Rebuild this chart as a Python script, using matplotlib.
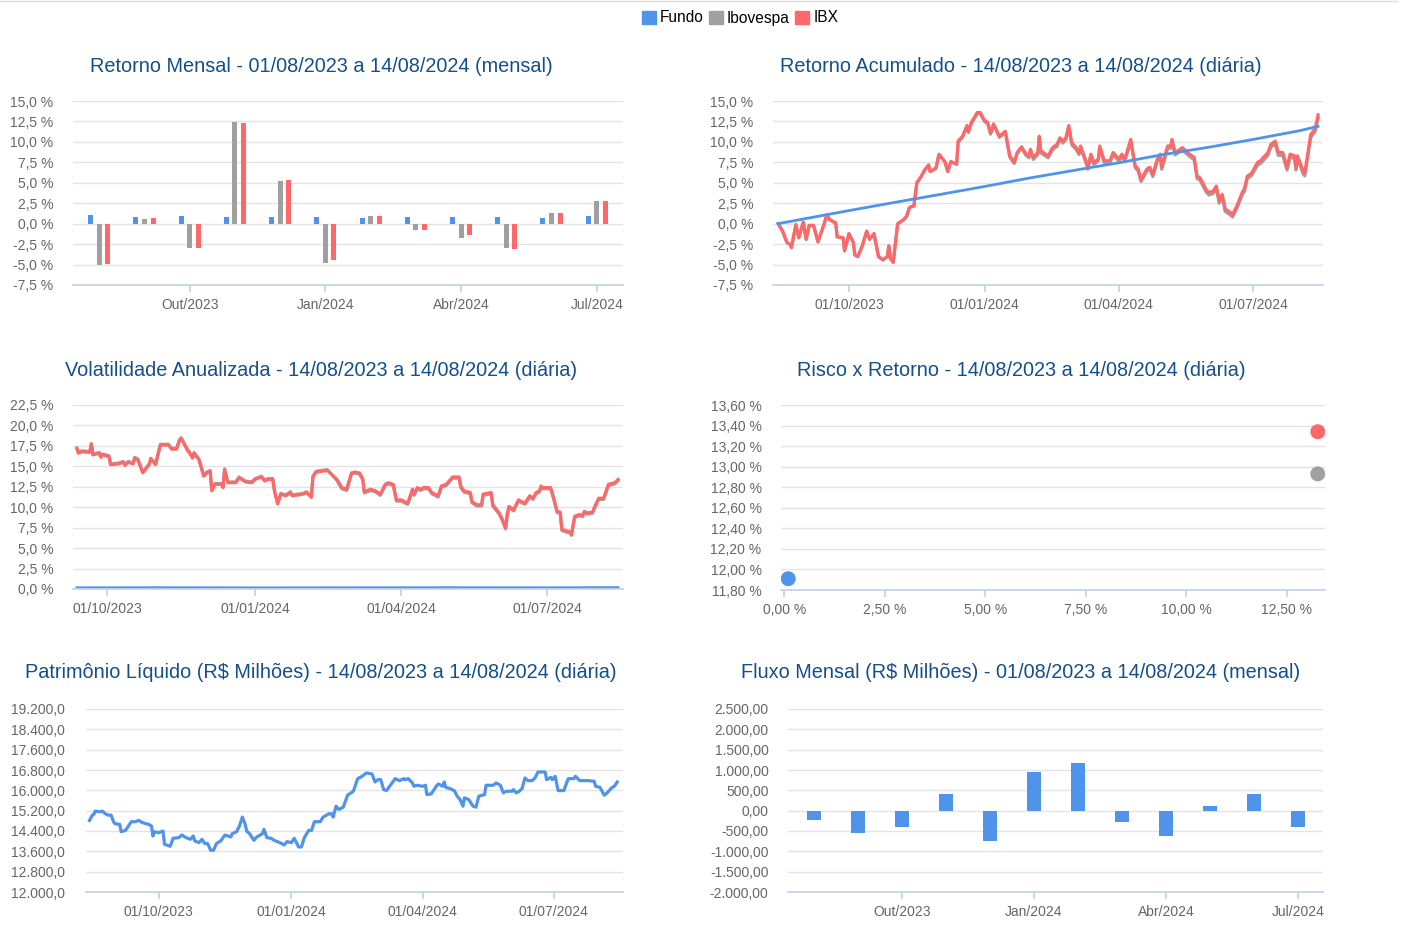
import numpy as np
import pandas as pd
import matplotlib
matplotlib.use('Agg')
import matplotlib.pyplot as plt
import matplotlib.dates as mdates
from matplotlib.patches import Patch
from matplotlib.ticker import FuncFormatter

plt.rcParams['font.family'] = ['Liberation Sans', 'DejaVu Sans']

BLUE = '#4f93ea'
GRAY = '#a0a0a0'
RED = '#ff6868'
TITLE_COLOR = '#134f8c'
LABEL_COLOR = '#666666'
GRID_COLOR = '#e4e4e4'
AXIS_COLOR = '#c6d4ea'

# ---- Retorno mensal (%) ----
months = ['Ago/2023', 'Set/2023', 'Out/2023', 'Nov/2023', 'Dez/2023', 'Jan/2024',
          'Fev/2024', 'Mar/2024', 'Abr/2024', 'Mai/2024', 'Jun/2024', 'Jul/2024']
ret_fundo = [1.07, 0.87, 0.88, 0.86, 0.76, 0.86, 0.75, 0.77, 0.78, 0.77, 0.74, 0.90]
ret_ibov = [-5.09, 0.61, -2.93, 12.43, 5.22, -4.77, 0.90, -0.73, -1.71, -2.94, 1.35, 2.82]
ret_ibx = [-4.99, 0.73, -2.93, 12.27, 5.34, -4.44, 0.90, -0.73, -1.39, -3.14, 1.35, 2.82]
month_ticks = ['Out/2023', 'Jan/2024', 'Abr/2024', 'Jul/2024']

# ---- Retorno acumulado (%) ----
acum_dates = [
    '2023-08-14', '2023-08-17', '2023-08-20', '2023-08-22', '2023-08-23', '2023-08-26',
    '2023-08-28', '2023-08-31', '2023-09-02', '2023-09-04', '2023-09-07', '2023-09-10',
    '2023-09-14', '2023-09-16', '2023-09-18', '2023-09-22', '2023-09-23', '2023-09-27',
    '2023-09-28', '2023-10-01', '2023-10-04', '2023-10-05', '2023-10-07', '2023-10-10',
    '2023-10-13', '2023-10-15', '2023-10-18', '2023-10-21', '2023-10-24', '2023-10-27',
    '2023-10-28', '2023-10-29', '2023-10-31', '2023-11-03', '2023-11-07', '2023-11-09',
    '2023-11-11', '2023-11-14', '2023-11-16', '2023-11-19', '2023-11-21', '2023-11-24',
    '2023-11-25', '2023-11-29', '2023-12-01', '2023-12-05', '2023-12-07', '2023-12-09',
    '2023-12-13', '2023-12-14', '2023-12-17', '2023-12-20', '2023-12-21', '2023-12-23',
    '2023-12-27', '2023-12-29', '2024-01-01', '2024-01-03', '2024-01-05', '2024-01-07',
    '2024-01-11', '2024-01-15', '2024-01-18', '2024-01-21', '2024-01-23', '2024-01-26',
    '2024-01-29', '2024-01-31', '2024-02-01', '2024-02-03', '2024-02-06', '2024-02-07',
    '2024-02-08', '2024-02-13', '2024-02-16', '2024-02-19', '2024-02-21', '2024-02-23',
    '2024-02-25', '2024-02-27', '2024-02-29', '2024-03-03', '2024-03-05', '2024-03-06',
    '2024-03-10', '2024-03-11', '2024-03-13', '2024-03-15', '2024-03-18', '2024-03-19',
    '2024-03-22', '2024-03-26', '2024-03-28', '2024-03-30', '2024-04-01', '2024-04-03',
    '2024-04-05', '2024-04-09', '2024-04-12', '2024-04-14', '2024-04-16', '2024-04-20',
    '2024-04-22', '2024-04-24', '2024-04-27', '2024-04-29', '2024-04-30', '2024-05-04',
    '2024-05-06', '2024-05-07', '2024-05-09', '2024-05-14', '2024-05-19', '2024-05-22',
    '2024-05-24', '2024-05-26', '2024-05-30', '2024-06-01', '2024-06-04', '2024-06-06',
    '2024-06-08', '2024-06-10', '2024-06-12', '2024-06-16', '2024-06-17', '2024-06-20',
    '2024-06-24', '2024-06-25', '2024-06-27', '2024-06-30', '2024-07-04', '2024-07-06',
    '2024-07-11', '2024-07-13', '2024-07-16', '2024-07-18', '2024-07-21', '2024-07-23',
    '2024-07-24', '2024-07-26', '2024-07-29', '2024-07-30', '2024-07-31', '2024-08-04',
    '2024-08-05', '2024-08-09', '2024-08-12', '2024-08-14']
acum_ibx = [
    0.0, -0.9, -2.3, -2.5, -2.9, -0.1, -1.7, 0.2, -1.9, -0.2, -0.2, -2.2,
    -0.1, 1.1, 0.5, 0.1, -1.6, -1.7, -3.3, -1.2, -2.3, -3.8, -4.0, -2.7,
    -0.9, -1.9, -1.2, -4.0, -4.4, -4.0, -2.7, -4.2, -4.7, 0.0, 0.5, 0.9,
    2.0, 2.2, 5.0, 5.8, 6.5, 7.2, 6.4, 6.8, 8.5, 7.6, 6.4, 7.6,
    7.3, 10.1, 10.7, 12.0, 11.3, 12.4, 13.6, 13.6, 12.6, 12.4, 11.1, 12.2,
    10.7, 11.3, 8.3, 7.5, 8.7, 9.4, 8.5, 8.3, 9.1, 8.1, 8.7, 10.7,
    8.9, 8.3, 9.3, 9.7, 10.5, 10.1, 10.5, 12.0, 9.9, 9.3, 8.7, 9.5,
    7.5, 6.9, 8.5, 7.5, 7.9, 9.5, 7.7, 7.7, 8.7, 8.3, 7.9, 8.5,
    7.9, 10.3, 7.1, 6.7, 5.4, 6.7, 6.9, 6.0, 7.9, 8.5, 6.9, 9.5,
    9.5, 10.3, 8.7, 9.3, 8.5, 8.1, 5.8, 5.6, 4.2, 3.8, 4.0, 4.6,
    2.8, 3.6, 1.8, 1.3, 1.1, 2.2, 4.0, 4.2, 5.8, 6.2, 7.5, 7.7,
    8.7, 9.7, 10.1, 8.7, 8.7, 7.5, 6.9, 8.5, 8.3, 6.9, 8.3, 6.4,
    6.2, 10.9, 11.6, 13.3]
acum_ibov = [
    0.0, -0.95, -2.35, -2.55, -2.95, -0.15, -1.75, 0.15, -1.95, -0.25, -0.25, -2.25,
    -0.15, 1.05, 0.45, 0.05, -1.65, -1.75, -3.35, -1.25, -2.35, -3.85, -4.05, -2.75,
    -0.95, -1.95, -1.25, -4.05, -4.45, -4.05, -2.75, -4.25, -4.75, -0.05, 0.45, 0.85,
    1.95, 2.15, 4.95, 5.75, 6.45, 7.15, 6.35, 6.75, 8.45, 7.55, 6.35, 7.55,
    7.25, 9.95, 10.55, 11.85, 11.15, 12.25, 13.45, 13.45, 12.45, 12.25, 10.95, 12.05,
    10.55, 11.15, 8.15, 7.35, 8.55, 9.25, 8.35, 8.05, 8.85, 7.85, 8.45, 10.45,
    8.65, 8.05, 9.05, 9.45, 10.25, 9.85, 10.25, 11.75, 9.65, 9.05, 8.45, 9.25,
    7.25, 6.65, 8.25, 7.25, 7.65, 9.25, 7.45, 7.45, 8.45, 8.05, 7.65, 8.25,
    7.65, 10.05, 6.85, 6.45, 5.15, 6.45, 6.65, 5.75, 7.65, 8.25, 6.65, 9.2,
    9.2, 10.0, 8.4, 9.0, 8.2, 7.8, 5.5, 5.3, 3.9, 3.5, 3.7, 4.3,
    2.5, 3.3, 1.5, 1.0, 0.8, 1.9, 3.7, 3.9, 5.5, 5.9, 7.15, 7.35,
    8.35, 9.35, 9.75, 8.35, 8.35, 7.15, 6.55, 8.15, 7.95, 6.55, 7.95, 6.05,
    5.85, 10.55, 11.25, 12.9]
acum_fundo_dates = ['2023-08-14', '2023-09-01', '2023-10-01', '2023-11-01', '2023-12-01',
                    '2024-01-01', '2024-02-01', '2024-03-01', '2024-04-01', '2024-05-01',
                    '2024-06-01', '2024-07-01', '2024-08-01', '2024-08-14']
acum_fundo = [0.0, 0.6, 1.6, 2.6, 3.55, 4.55, 5.6, 6.5, 7.45, 8.45, 9.35, 10.3, 11.35, 11.9]

# ---- Volatilidade anualizada (%) ----
vol_dates = [
    '2023-09-12', '2023-09-13', '2023-09-15', '2023-09-20', '2023-09-21', '2023-09-22',
    '2023-09-26', '2023-09-27', '2023-09-28', '2023-10-02', '2023-10-03', '2023-10-08',
    '2023-10-11', '2023-10-12', '2023-10-14', '2023-10-17', '2023-10-18', '2023-10-20',
    '2023-10-23', '2023-10-27', '2023-10-28', '2023-10-31', '2023-11-03', '2023-11-08',
    '2023-11-10', '2023-11-13', '2023-11-15', '2023-11-16', '2023-11-20', '2023-11-21',
    '2023-11-23', '2023-11-24', '2023-11-27', '2023-11-30', '2023-12-02', '2023-12-04',
    '2023-12-05', '2023-12-07', '2023-12-11', '2023-12-12', '2023-12-13', '2023-12-15',
    '2023-12-20', '2023-12-22', '2023-12-26', '2023-12-30', '2024-01-01', '2024-01-05',
    '2024-01-07', '2024-01-09', '2024-01-12', '2024-01-13', '2024-01-15', '2024-01-17',
    '2024-01-20', '2024-01-23', '2024-01-24', '2024-01-31', '2024-02-02', '2024-02-05',
    '2024-02-06', '2024-02-08', '2024-02-15', '2024-02-21', '2024-02-24', '2024-02-27',
    '2024-03-01', '2024-03-03', '2024-03-06', '2024-03-08', '2024-03-09', '2024-03-13',
    '2024-03-16', '2024-03-19', '2024-03-22', '2024-03-24', '2024-03-27', '2024-03-29',
    '2024-04-01', '2024-04-05', '2024-04-08', '2024-04-09', '2024-04-11', '2024-04-13',
    '2024-04-15', '2024-04-18', '2024-04-20', '2024-04-24', '2024-04-26', '2024-04-29',
    '2024-05-03', '2024-05-07', '2024-05-08', '2024-05-10', '2024-05-14', '2024-05-15',
    '2024-05-18', '2024-05-21', '2024-05-22', '2024-05-27', '2024-05-28', '2024-06-01',
    '2024-06-03', '2024-06-05', '2024-06-06', '2024-06-07', '2024-06-10', '2024-06-13',
    '2024-06-17', '2024-06-20', '2024-06-22', '2024-06-24', '2024-06-26', '2024-06-27',
    '2024-06-28', '2024-07-03', '2024-07-05', '2024-07-07', '2024-07-09', '2024-07-10',
    '2024-07-13', '2024-07-15', '2024-07-16', '2024-07-18', '2024-07-21', '2024-07-23',
    '2024-07-24', '2024-07-26', '2024-07-29', '2024-07-31', '2024-08-02', '2024-08-05',
    '2024-08-08', '2024-08-12', '2024-08-14']
vol_ibx = [
    17.15, 16.6, 16.8, 16.7, 17.7, 16.4, 16.6, 16.1, 16.4, 16.2, 15.2, 15.3,
    15.5, 15.1, 15.5, 15.3, 16.0, 15.8, 14.2, 15.2, 15.9, 15.2, 17.6, 17.6,
    17.1, 17.1, 18.2, 18.4, 16.9, 16.7, 16.0, 16.6, 15.8, 13.8, 14.2, 14.4,
    12.0, 12.8, 12.8, 12.4, 14.6, 13.0, 13.0, 13.6, 13.1, 13.0, 13.4, 13.7,
    13.2, 13.4, 13.4, 12.0, 10.4, 11.6, 11.4, 11.8, 11.4, 11.6, 11.8, 11.2,
    13.7, 14.3, 14.5, 13.4, 12.4, 12.2, 14.2, 14.3, 14.2, 13.5, 11.9, 12.2,
    12.0, 11.6, 12.8, 13.0, 12.8, 10.9, 10.9, 10.5, 12.2, 11.6, 12.4, 12.2,
    12.4, 12.4, 11.8, 11.4, 12.6, 12.8, 13.7, 13.7, 12.6, 12.0, 11.8, 10.7,
    10.3, 10.3, 11.6, 11.8, 10.3, 9.3, 8.5, 7.5, 9.1, 10.1, 9.7, 10.9,
    10.5, 11.4, 11.1, 11.8, 12.0, 12.6, 12.4, 12.4, 11.1, 9.5, 9.4, 7.3,
    7.1, 7.0, 6.7, 8.9, 9.1, 9.0, 9.5, 9.3, 9.4, 10.3, 11.1, 11.1,
    12.8, 13.0, 13.4]
vol_ibov = [
    17.25, 16.7, 16.9, 16.8, 17.8, 16.5, 16.7, 16.2, 16.5, 16.3, 15.3, 15.4,
    15.6, 15.2, 15.6, 15.4, 16.1, 15.9, 14.3, 15.3, 16.0, 15.3, 17.7, 17.7,
    17.2, 17.2, 18.3, 18.5, 17.0, 16.8, 16.1, 16.7, 15.9, 13.9, 14.3, 14.5,
    12.1, 12.9, 12.9, 12.5, 14.7, 13.1, 13.1, 13.7, 13.2, 13.1, 13.5, 13.8,
    13.3, 13.5, 13.5, 12.1, 10.5, 11.7, 11.5, 11.9, 11.5, 11.7, 11.9, 11.3,
    13.8, 14.4, 14.6, 13.25, 12.25, 12.05, 14.05, 14.15, 14.05, 13.35, 11.75, 12.05,
    11.85, 11.45, 12.65, 12.85, 12.65, 10.75, 10.75, 10.35, 12.05, 11.45, 12.25, 12.05,
    12.25, 12.25, 11.65, 11.25, 12.45, 12.65, 13.55, 13.55, 12.45, 11.85, 11.65, 10.55,
    10.15, 10.15, 11.45, 11.65, 10.15, 9.15, 8.35, 7.35, 8.95, 9.95, 9.55, 10.75,
    10.35, 11.25, 10.95, 11.65, 11.85, 12.45, 12.25, 12.25, 10.95, 9.35, 9.25, 7.15,
    6.95, 6.85, 6.55, 8.75, 8.95, 8.85, 9.35, 9.15, 9.25, 10.15, 10.95, 10.95,
    12.65, 12.85, 13.25]
vol_fundo_dates = ['2023-09-12', '2023-11-01', '2024-01-01', '2024-03-01', '2024-05-01',
                   '2024-07-01', '2024-08-14']
vol_fundo = [0.15, 0.16, 0.14, 0.15, 0.16, 0.15, 0.17]

# ---- Risco x Retorno (%) ----
risco = [0.10, 13.27, 13.27]      # Fundo, Ibovespa, IBX
retorno = [11.91, 12.93, 13.34]

# ---- Patrimonio liquido (R$ milhoes) ----
pl_dates = [
    '2023-08-14', '2023-08-16', '2023-08-17', '2023-08-18', '2023-08-21', '2023-08-23',
    '2023-08-25', '2023-08-27', '2023-08-29', '2023-08-31', '2023-09-01', '2023-09-04',
    '2023-09-05', '2023-09-08', '2023-09-12', '2023-09-15', '2023-09-17', '2023-09-20',
    '2023-09-24', '2023-09-26', '2023-09-27', '2023-09-28', '2023-10-01', '2023-10-04',
    '2023-10-05', '2023-10-09', '2023-10-11', '2023-10-15', '2023-10-17', '2023-10-20',
    '2023-10-23', '2023-10-25', '2023-10-26', '2023-10-29', '2023-10-31', '2023-11-02',
    '2023-11-04', '2023-11-06', '2023-11-08', '2023-11-10', '2023-11-13', '2023-11-16',
    '2023-11-20', '2023-11-21', '2023-11-24', '2023-11-26', '2023-11-28', '2023-11-30',
    '2023-12-01', '2023-12-03', '2023-12-06', '2023-12-08', '2023-12-12', '2023-12-13',
    '2023-12-15', '2023-12-18', '2023-12-20', '2023-12-24', '2023-12-27', '2023-12-29',
    '2024-01-01', '2024-01-03', '2024-01-06', '2024-01-08', '2024-01-10', '2024-01-13',
    '2024-01-15', '2024-01-17', '2024-01-21', '2024-01-23', '2024-01-27', '2024-01-29',
    '2024-01-30', '2024-02-01', '2024-02-03', '2024-02-06', '2024-02-09', '2024-02-13',
    '2024-02-16', '2024-02-19', '2024-02-22', '2024-02-26', '2024-02-28', '2024-03-01',
    '2024-03-03', '2024-03-05', '2024-03-07', '2024-03-10', '2024-03-13', '2024-03-16',
    '2024-03-19', '2024-03-20', '2024-03-22', '2024-03-25', '2024-03-26', '2024-03-28',
    '2024-04-01', '2024-04-03', '2024-04-04', '2024-04-07', '2024-04-11', '2024-04-12',
    '2024-04-15', '2024-04-16', '2024-04-17', '2024-04-20', '2024-04-23', '2024-04-25',
    '2024-04-27', '2024-04-29', '2024-04-30', '2024-05-03', '2024-05-06', '2024-05-08',
    '2024-05-10', '2024-05-14', '2024-05-15', '2024-05-20', '2024-05-22', '2024-05-25',
    '2024-05-27', '2024-05-29', '2024-06-02', '2024-06-03', '2024-06-05', '2024-06-07',
    '2024-06-09', '2024-06-11', '2024-06-13', '2024-06-16', '2024-06-18', '2024-06-20',
    '2024-06-25', '2024-06-26', '2024-06-29', '2024-06-30', '2024-07-02', '2024-07-04',
    '2024-07-08', '2024-07-11', '2024-07-15', '2024-07-16', '2024-07-19', '2024-07-22',
    '2024-07-25', '2024-07-29', '2024-07-30', '2024-08-02', '2024-08-05', '2024-08-07',
    '2024-08-10', '2024-08-12', '2024-08-14']
pl_values = [
    14817, 15025, 15051, 15182, 15156, 15182, 15077, 15025, 15025, 14725, 14686, 14660,
    14373, 14425, 14765, 14765, 14817, 14725, 14660, 14595, 14204, 14373, 14334, 14399,
    13878, 13800, 14113, 14139, 14243, 14139, 14073, 14204, 14008, 13943, 14073, 13904,
    13904, 13643, 13643, 13904, 14008, 14243, 14165, 14295, 14373, 14595, 14947, 14660,
    14399, 14295, 14034, 14165, 14295, 14464, 14139, 14113, 14034, 13943, 13852, 13982,
    13943, 14113, 13773, 13773, 14139, 14425, 14425, 14765, 14765, 14947, 15077, 15077,
    14947, 15377, 15247, 15338, 15808, 15964, 16460, 16551, 16681, 16642, 16329, 16421,
    16421, 16029, 15990, 16225, 16460, 16382, 16460, 16421, 16460, 16290, 16160, 16199,
    16160, 16199, 15834, 15860, 16199, 16251, 16160, 16329, 16121, 16069, 15990, 15769,
    15638, 15377, 15703, 15638, 15377, 15338, 15769, 15834, 16199, 16199, 16290, 16199,
    15899, 15964, 15964, 16029, 15899, 15964, 16069, 16486, 16382, 16382, 16486, 16721,
    16721, 16421, 16512, 16421, 16551, 15990, 15990, 16460, 16460, 16551, 16382, 16382,
    16382, 16355, 16160, 16121, 15808, 15899, 16095, 16160, 16329]

# ---- Fluxo mensal (R$ milhoes) ----
fluxo = [-238, -557, -393, 401, -754, 951, 1180, -279, -631, 115, 401, -401]


def br_number(v, dec):
    s = f'{v:,.{dec}f}'
    return s.replace(',', 'X').replace('.', ',').replace('X', '.')


def style_axes(ax, ypad=14):
    for side in ['top', 'right', 'left']:
        ax.spines[side].set_visible(False)
    ax.spines['bottom'].set_color(AXIS_COLOR)
    ax.spines['bottom'].set_linewidth(1.3)
    ax.yaxis.grid(True, color=GRID_COLOR, linewidth=1.0)
    ax.set_axisbelow(True)
    ax.tick_params(axis='y', length=0, pad=ypad, labelsize=10, labelcolor=LABEL_COLOR)
    ax.tick_params(axis='x', length=5, width=1.3, color=AXIS_COLOR, pad=4.5,
                   labelsize=10, labelcolor=LABEL_COLOR)


def set_dates(ax, start, end):
    ax.set_xlim(pd.Timestamp(start), pd.Timestamp(end))
    ticks = pd.to_datetime(['2023-10-01', '2024-01-01', '2024-04-01', '2024-07-01'])
    ax.set_xticks(ticks)
    ax.xaxis.set_major_formatter(mdates.DateFormatter('%d/%m/%Y'))


W, H = 1404, 933
fig = plt.figure(figsize=(W / 100, H / 100), dpi=100)


def px_axes(x0, y0, x1, y1):
    return fig.add_axes([x0 / W, 1 - y1 / H, (x1 - x0) / W, (y1 - y0) / H])


def title(x, y, text):
    fig.text(x / W, 1 - y / H, text, ha='center', va='center', fontsize=14.3,
             color=TITLE_COLOR)


pct1 = FuncFormatter(lambda v, p: br_number(v, 1) + ' %')
pct2 = FuncFormatter(lambda v, p: br_number(v, 2) + ' %')
xm = np.arange(len(months))

# Retorno Mensal
ax1 = px_axes(73, 101, 623, 285)
ax1.bar(xm - 0.19, ret_fundo, width=0.11, color=BLUE)
ax1.bar(xm, ret_ibov, width=0.11, color=GRAY)
ax1.bar(xm + 0.19, ret_ibx, width=0.11, color=RED)
ax1.set_ylim(-7.5, 15)
ax1.set_yticks(np.arange(-7.5, 15.1, 2.5))
ax1.yaxis.set_major_formatter(pct1)
ax1.set_xlim(-0.58, 11.58)
ax1.set_xticks([months.index(m) for m in month_ticks])
ax1.set_xticklabels(month_ticks)
style_axes(ax1)
title(321, 66, 'Retorno Mensal - 01/08/2023 a 14/08/2024 (mensal)')

# Retorno Acumulado
ax2 = px_axes(773, 101, 1323, 285)
ax2.plot(pd.to_datetime(acum_dates), acum_ibov, color=GRAY, lw=2.3)
ax2.plot(pd.to_datetime(acum_dates), acum_ibx, color=RED, lw=2.3)
ax2.plot(pd.to_datetime(acum_fundo_dates), acum_fundo, color=BLUE, lw=2.0)
ax2.set_ylim(-7.5, 15)
ax2.set_yticks(np.arange(-7.5, 15.1, 2.5))
ax2.yaxis.set_major_formatter(pct1)
set_dates(ax2, '2023-08-10 12:00', '2024-08-17 08:00')
style_axes(ax2)
title(1021, 66, 'Retorno Acumulado - 14/08/2023 a 14/08/2024 (diária)')

# Volatilidade
ax3 = px_axes(73, 405, 623, 589)
ax3.plot(pd.to_datetime(vol_dates), vol_ibov, color=GRAY, lw=2.3)
ax3.plot(pd.to_datetime(vol_dates), vol_ibx, color=RED, lw=2.3)
ax3.plot(pd.to_datetime(vol_fundo_dates), vol_fundo, color=BLUE, lw=2.0)
ax3.set_ylim(0, 22.5)
ax3.set_yticks(np.arange(0, 22.6, 2.5))
ax3.yaxis.set_major_formatter(pct1)
set_dates(ax3, '2023-09-09 14:00', '2024-08-17 02:00')
style_axes(ax3)
title(321, 370, 'Volatilidade Anualizada - 14/08/2023 a 14/08/2024 (diária)')

# Risco x Retorno
ax4 = px_axes(781, 405, 1325, 590)
ax4.scatter(risco, retorno, s=95, color=[BLUE, GRAY, RED], zorder=3)
ax4.set_ylim(11.8, 13.6)
ax4.set_yticks(np.arange(11.8, 13.61, 0.2))
ax4.yaxis.set_major_formatter(pct2)
ax4.set_xlim(-0.08, 13.45)
ax4.set_xticks(np.arange(0, 12.6, 2.5))
ax4.xaxis.set_major_formatter(pct2)
style_axes(ax4, ypad=14)
title(1021, 370, 'Risco x Retorno - 14/08/2023 a 14/08/2024 (diária)')

# Patrimonio Liquido
ax5 = px_axes(86, 709, 623, 892)
ax5.plot(pd.to_datetime(pl_dates), pl_values, color=BLUE, lw=2.3)
ax5.set_ylim(12000, 19200)
ax5.set_yticks(np.arange(12000, 19201, 800))
ax5.yaxis.set_major_formatter(FuncFormatter(lambda v, p: br_number(v, 1)))
set_dates(ax5, '2023-08-11 14:00', '2024-08-18 00:00')
style_axes(ax5, ypad=15)
title(321, 673, 'Patrimônio Líquido (R$ Milhões) - 14/08/2023 a 14/08/2024 (diária)')

# Fluxo Mensal
ax6 = px_axes(788, 709, 1323, 892)
ax6.bar(xm, fluxo, width=0.32, color=BLUE)
ax6.set_ylim(-2000, 2500)
ax6.set_yticks(np.arange(-2000, 2501, 500))
ax6.yaxis.set_major_formatter(FuncFormatter(lambda v, p: br_number(v, 2)))
ax6.set_xlim(-0.59, 11.57)
ax6.set_xticks([months.index(m) for m in month_ticks])
ax6.set_xticklabels(month_ticks)
style_axes(ax6, ypad=14)
title(1021, 673, 'Fluxo Mensal (R$ Milhões) - 01/08/2023 a 14/08/2024 (mensal)')

# Legenda geral
handles = [Patch(color=BLUE), Patch(color=GRAY), Patch(color=RED)]
fig.legend(handles, ['Fundo', 'Ibovespa', 'IBX'], loc='center', ncol=3,
           bbox_to_anchor=(740 / W, 1 - 18 / H), frameon=False, fontsize=11.2,
           handlelength=0.9, handleheight=0.9, handletextpad=0.25,
           columnspacing=0.35, borderaxespad=0)
fig.add_artist(plt.Line2D([0, 1397 / W], [1 - 1 / H, 1 - 1 / H], color='#dddddd', lw=1))

fig.savefig('out.png', dpi=100)
